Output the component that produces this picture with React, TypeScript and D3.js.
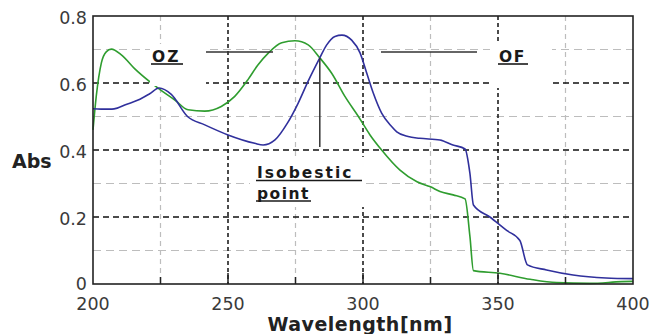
import { useEffect, useRef } from "react";
import * as d3 from "d3";

// OZ (blue) spectrum: wavelength [nm] / absorbance
const ozWl = [200, 203, 207, 209, 212, 216.7, 221, 224.5, 229, 235, 241.4, 250, 259.9, 263, 267.4, 272, 276, 279.6, 284, 286.5, 289.6, 292.2, 295.8, 298.9, 301.4, 303.8, 306.9, 310.6, 312.5, 316.7, 321, 328.5, 333.3, 337.8, 339.6, 340.9, 347, 353.2, 358.1, 360.9, 368, 377.8, 390, 400];
const ozAbs = [0.523, 0.522, 0.522, 0.525, 0.535, 0.549, 0.568, 0.585, 0.566, 0.5, 0.475, 0.445, 0.42, 0.415, 0.43, 0.48, 0.54, 0.604, 0.675, 0.713, 0.739, 0.743, 0.728, 0.69, 0.629, 0.57, 0.51, 0.47, 0.454, 0.44, 0.435, 0.43, 0.415, 0.403, 0.33, 0.236, 0.2, 0.16, 0.13, 0.057, 0.042, 0.027, 0.018, 0.016];

// OF (green) spectrum
const ofWl = [200, 201.2, 203.1, 204.9, 206.8, 210.5, 215.4, 221, 224.7, 230.2, 235.2, 241.4, 247.5, 252.5, 257.4, 261, 265, 269.9, 274.8, 279.7, 284, 288.4, 293.3, 298.3, 302.6, 306.9, 313.7, 320, 325, 328.5, 333.4, 337.8, 339.6, 340.9, 350.7, 361.9, 371.7, 384, 395.8, 400];
const ofAbs = [0.46, 0.56, 0.66, 0.693, 0.701, 0.684, 0.643, 0.604, 0.581, 0.55, 0.52, 0.516, 0.53, 0.56, 0.61, 0.653, 0.69, 0.72, 0.726, 0.714, 0.675, 0.629, 0.56, 0.5, 0.445, 0.4, 0.34, 0.305, 0.29, 0.276, 0.266, 0.254, 0.142, 0.04, 0.032, 0.014, 0.004, 0.002, 0.007, 0.008];

const xMajor = [250, 300, 350];
const xMinor = [225, 275, 325, 375];
const xLabels = [200, 250, 300, 350, 400];
const yMajor = [0.2, 0.4, 0.6];
const yMinor = [0.1, 0.3, 0.5, 0.7];
const yLabels = [0, 0.2, 0.4, 0.6, 0.8];

const isoPoint = { wl: 284, abs: 0.675 };

export default function App() {
  const svgRef = useRef<SVGSVGElement>(null);

  useEffect(() => {
    if (!svgRef.current) return;
    const svg = d3.select(svgRef.current);
    svg.selectAll("*").remove();

    const x = d3.scaleLinear().domain([200, 400]).range([93, 633]);
    const y = d3.scaleLinear().domain([0, 0.8]).range([284, 16]);
    const font = "'DejaVu Sans', Verdana, sans-serif";

    // minor grid
    svg.append("g")
      .selectAll("line")
      .data(yMinor)
      .enter()
      .append("line")
      .attr("x1", x(200)).attr("x2", x(400))
      .attr("y1", d => y(d)).attr("y2", d => y(d))
      .attr("stroke", "#bdbdbd").attr("stroke-width", 1.2)
      .attr("stroke-dasharray", "8,5");
    svg.append("g")
      .selectAll("line")
      .data(xMinor)
      .enter()
      .append("line")
      .attr("x1", d => x(d)).attr("x2", d => x(d))
      .attr("y1", y(0.8)).attr("y2", y(0))
      .attr("stroke", "#bdbdbd").attr("stroke-width", 1.2)
      .attr("stroke-dasharray", "5,4");

    // major grid
    svg.append("g")
      .selectAll("line")
      .data(yMajor)
      .enter()
      .append("line")
      .attr("x1", x(200)).attr("x2", x(400))
      .attr("y1", d => y(d)).attr("y2", d => y(d))
      .attr("stroke", "#111").attr("stroke-width", 1.5)
      .attr("stroke-dasharray", "6,4");
    svg.append("g")
      .selectAll("line")
      .data(xMajor)
      .enter()
      .append("line")
      .attr("x1", d => x(d)).attr("x2", d => x(d))
      .attr("y1", y(0.8)).attr("y2", y(0))
      .attr("stroke", "#111").attr("stroke-width", 1.5)
      .attr("stroke-dasharray", "4,3");

    // curves
    const line = d3.line<[number, number]>()
      .x(d => x(d[0]))
      .y(d => y(d[1]))
      .curve(d3.curveMonotoneX);
    svg.append("path")
      .attr("d", line(ofWl.map((w, i) => [w, ofAbs[i]]) as [number, number][]))
      .attr("fill", "none").attr("stroke", "#2f9d2f").attr("stroke-width", 1.6);
    svg.append("path")
      .attr("d", line(ozWl.map((w, i) => [w, ozAbs[i]]) as [number, number][]))
      .attr("fill", "none").attr("stroke", "#30309c").attr("stroke-width", 1.6);

    // label backgrounds
    const boxes = [
      { x: 150, y: 44, w: 56, h: 42 },
      { x: 490, y: 44, w: 62, h: 44 },
      { x: 250, y: 157, w: 114, h: 50 },
    ];
    svg.append("g")
      .selectAll("rect")
      .data(boxes)
      .enter()
      .append("rect")
      .attr("x", d => d.x).attr("y", d => d.y)
      .attr("width", d => d.w).attr("height", d => d.h)
      .attr("fill", "#fff");

    // frame
    svg.append("rect")
      .attr("x", x(200)).attr("y", y(0.8))
      .attr("width", x(400) - x(200)).attr("height", y(0) - y(0.8))
      .attr("fill", "none").attr("stroke", "#222").attr("stroke-width", 1.6);

    // x ticks (inward)
    svg.append("g")
      .selectAll("line")
      .data([...xMajor, ...xMinor])
      .enter()
      .append("line")
      .attr("x1", d => x(d)).attr("x2", d => x(d))
      .attr("y1", y(0))
      .attr("y2", d => y(0) - (xMajor.includes(d) ? 11 : 7))
      .attr("stroke", "#222").attr("stroke-width", 1.5);

    // tick labels
    svg.append("g")
      .selectAll("text")
      .data(xLabels)
      .enter()
      .append("text")
      .attr("x", d => x(d))
      .attr("y", 310)
      .attr("text-anchor", "middle")
      .attr("font-family", font).attr("font-size", 17.5)
      .attr("fill", "#3a3a3a")
      .text(d => d);
    svg.append("g")
      .selectAll("text")
      .data(yLabels)
      .enter()
      .append("text")
      .attr("x", 87)
      .attr("y", d => y(d) + (d === 0 ? 6 : 8))
      .attr("text-anchor", "end")
      .attr("font-family", font).attr("font-size", 17.5)
      .attr("fill", "#3a3a3a")
      .text(d => (d === 0 ? "0" : d.toFixed(1)));

    // axis titles
    svg.append("text")
      .attr("x", 12).attr("y", 168)
      .attr("font-family", font).attr("font-size", 19).attr("font-weight", "bold")
      .attr("fill", "#222")
      .text("Abs");
    svg.append("text")
      .attr("x", 360).attr("y", 331)
      .attr("text-anchor", "middle")
      .attr("font-family", font).attr("font-size", 19).attr("font-weight", "bold")
      .attr("letter-spacing", 0.5)
      .attr("fill", "#222")
      .text("Wavelength[nm]");

    // annotations
    const ann = svg.append("g").attr("font-family", font).attr("font-weight", "bold").attr("fill", "#1a1a1a");
    const label = (t: string, tx: number, ty: number, ux2: number, ls: number) => {
      ann.append("text")
        .attr("x", tx).attr("y", ty)
        .attr("font-size", 15.5)
        .attr("letter-spacing", ls)
        .text(t);
      ann.append("line")
        .attr("x1", tx - 1).attr("x2", ux2)
        .attr("y1", ty + 2.5).attr("y2", ty + 2.5)
        .attr("stroke", "#1a1a1a").attr("stroke-width", 1.6);
    };
    label("OZ", 152, 61.5, 183, 2);
    label("OF", 499, 61.5, 528, 1.5);
    label("Isobestic", 257, 178, 362, 2);
    label("point", 257, 198.5, 311, 1.5);

    const lead = svg.append("g").attr("stroke", "#333").attr("stroke-width", 1.5);
    lead.append("line").attr("x1", 206).attr("x2", 273).attr("y1", 52).attr("y2", 52);
    lead.append("line").attr("x1", 381).attr("x2", 477).attr("y1", 52).attr("y2", 52);
    lead.append("line")
      .attr("x1", x(isoPoint.wl)).attr("x2", x(isoPoint.wl))
      .attr("y1", y(isoPoint.abs)).attr("y2", 147);
  }, []);

  return (
    <svg
      ref={svgRef}
      width={651}
      height={334}
      style={{ position: "absolute", left: 0, top: 0, background: "#fff" }}
    />
  );
}
